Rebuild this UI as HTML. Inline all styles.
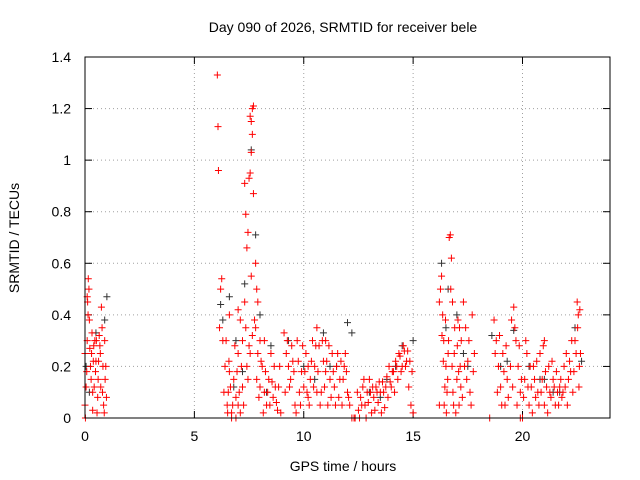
<!DOCTYPE html>
<html><head><meta charset="utf-8"><style>
body{margin:0;background:#fff}
svg{display:block;font-family:"Liberation Sans",sans-serif}
</style></head><body>
<svg width="640" height="480" id="chart">
<rect width="640" height="480" fill="#fff"/>
<text x="343" y="32" text-anchor="middle" font-size="14">Day 090 of 2026, SRMTID for receiver bele</text>
<text x="343" y="471" text-anchor="middle" font-size="14">GPS time / hours</text>
<text transform="translate(19,238) rotate(-90)" text-anchor="middle" font-size="14">SRMTID / TECUs</text>
<g id="grid"></g><g id="ticks"></g><g id="marks"></g>
<rect x="85" y="57" width="525" height="361" fill="none" stroke="#000"/>
</svg>
<script>
const xTicks=[0,5,10,15,20];
const yTicks=[0,0.2,0.4,0.6,0.8,1,1.2,1.4];
const yTickLabels=["0","0.2","0.4","0.6","0.8","1","1.2","1.4"];
const redT=[0,0.05,0.1,0.12,0.15,0.18,0.2,0.25,0.3,0.35,0.4,0.45,0.5,0.55,0.6,0.65,0.7,0.75,0.8,0.85,0.9,0.95,0.35,0,
6.05,6.08,6.1,6.2,6.25,6.3,6.4,6.5,6.55,6.6,6.7,6.8,6.9,7,7.1,7.2,7.3,7.35,7.4,7.45,7.5,7.55,7.6,7.65,7.7,7.65,7.6,7.55,7.7,7.8,7.85,7.9,8,8.1,8.2,8.3,8.4,8.5,8.6,8.7,8.8,8.9,7,7.2,7.4,7.5,7.8,8,8.2,6.6,7.1,
9.1,9.2,9.3,9.4,9.5,9.6,9.8,9.9,10,10.1,10.2,10.3,10.4,10.5,10.6,10.7,10.8,10.9,11,11.1,11.2,11.3,11.4,11.5,11.6,11.7,11.8,11.9,12,12.1,12.2,12.3,12.5,12.6,12.7,12.8,12.9,13,13.1,13.2,13.3,13.4,13.5,13.6,13.7,13.8,13.9,14,14.1,14.2,14.3,14.4,14.5,14.6,14.7,14.8,14.9,15,10.6,11,10.2,9.7,
16.2,16.3,16.35,16.4,16.5,16.55,16.6,16.65,16.7,16.75,16.8,16.9,17,17.1,17.15,17.2,17.3,17.4,17.5,17.6,17.7,17.8,16.2,16.45,16.85,17.05,
18.7,18.8,18.9,19,19.1,19.2,19.3,19.5,19.6,19.7,19.8,19.9,20,20.1,20.2,20.3,20.4,20.5,20.6,20.7,20.8,20.9,21,21.1,21.2,21.3,21.4,21.5,21.6,21.7,21.8,21.9,22,22.1,22.2,22.3,22.4,22.5,22.55,22.6,22.65,19.9,18.5,21];
const redV=[0.05,0.12,0.3,0.45,0.54,0.5,0.38,0.2,0.25,0.1,0.28,0.3,0.22,0.02,0.15,0.32,0.25,0.43,0.1,0.05,0.3,0.2,0.03,0.25,
1.33,1.13,0.96,0.5,0.54,0.3,0.2,0.05,0.1,0.4,0.02,0.15,0.08,0.25,0.38,0.3,0.91,0.79,0.66,0.72,0.93,1.17,1.15,1.2,1.21,1.1,1.03,0.95,0.87,0.6,0.5,0.45,0.3,0.2,0.1,0.05,0.15,0.25,0.08,0.12,0.03,0.2,0.05,0.12,0.2,0.28,0.35,0.12,0.3,0.18,0.02,
0.33,0.25,0.2,0.15,0.22,0.05,0.1,0.18,0.12,0.25,0.08,0.15,0.3,0.2,0.35,0.28,0.1,0.22,0.18,0.05,0.15,0.25,0.12,0.2,0.08,0.22,0.15,0.25,0.1,0.05,0,0,0.03,0.08,0.12,0.05,0.1,0.15,0.02,0.08,0.12,0.06,0.1,0.14,0.04,0.16,0.2,0.12,0.18,0.22,0.15,0.24,0.2,0.26,0.22,0.12,0.05,0.02,0.1,0.3,0.2,0.3,
0.45,0.55,0.4,0.3,0.2,0.1,0.25,0.7,0.71,0.62,0.45,0.35,0.15,0.05,0.2,0.3,0.45,0.35,0.22,0.1,0.4,0.25,0.05,0.12,0.05,0.38,
0.38,0.3,0.2,0.12,0.25,0.05,0.15,0.38,0.43,0.3,0.2,0.1,0,0.15,0.25,0.05,0.12,0.2,0.08,0.1,0.25,0.15,0.05,0.12,0.2,0.08,0.15,0.05,0.1,0.12,0.08,0.2,0.25,0.15,0.18,0.1,0.3,0.45,0.4,0.2,0.25,0,0,0.3];
const redT2=[0.02,0.08,0.22,0.28,0.32,0.38,0.42,0.48,0.52,0.58,0.62,0.68,0.72,0.78,0.82,0.88,0.92,0.98,0.14,0.1,
6.15,6.35,6.45,6.52,6.58,6.65,6.75,6.85,6.95,7.05,7.15,7.25,7.35,7.45,7.55,7.65,7.75,7.85,7.95,8.05,8.15,8.25,8.35,8.45,8.55,8.65,8.75,8.85,8.95,6.7,6.9,7.0,7.3,7.6,7.9,
9.15,9.25,9.35,9.45,9.55,9.65,9.75,9.85,9.95,10.05,10.15,10.25,10.35,10.45,10.55,10.65,10.75,10.85,10.95,11.05,11.15,11.25,11.35,11.45,11.55,11.65,11.75,11.85,11.95,12.05,12.45,12.55,12.65,12.75,12.85,12.95,13.05,13.15,13.25,13.35,13.45,13.55,13.65,13.75,13.85,13.95,14.05,14.15,14.25,14.35,14.45,14.55,14.65,14.75,14.85,14.95,12.35,
16.25,16.32,16.38,16.42,16.48,16.52,16.58,16.62,16.72,16.78,16.82,16.88,16.95,17.02,17.08,17.12,17.18,17.25,17.35,17.45,17.55,17.65,17.75,
18.75,18.85,18.95,19.05,19.15,19.25,19.35,19.45,19.55,19.65,19.75,19.85,19.95,20.05,20.15,20.25,20.35,20.45,20.55,20.65,20.75,20.85,20.95,21.05,21.15,21.25,21.35,21.45,21.55,21.65,21.75,21.85,21.95,22.05,22.15,22.25,22.35,22.45,22.52,22.58,22.62];
const redV2=[0,0.18,0.27,0.15,0.33,0.22,0.12,0.18,0.3,0.08,0.22,0.28,0.12,0.35,0.2,0.02,0.15,0.08,0.4,0.47,
0.35,0.1,0.3,0.02,0.22,0.12,0.05,0.28,0.18,0.1,0.2,0.05,0.35,0.15,0.25,0.32,0.38,0.15,0.08,0.22,0.02,0.18,0.1,0.05,0.14,0.2,0.06,0.12,0.02,0,0,0.42,0.45,0.55,0.25,
0.1,0.3,0.12,0.28,0.18,0.02,0.22,0.05,0.28,0.18,0.1,0.05,0.22,0.12,0.28,0.18,0.05,0.3,0.12,0.22,0.28,0.08,0.18,0.05,0.25,0.15,0.05,0.2,0.18,0.08,0.1,0,0.05,0.15,0,0.06,0.1,0.12,0.03,0.1,0.14,0.02,0.1,0.12,0.08,0.14,0.18,0.1,0.2,0.25,0.18,0.28,0.2,0.26,0.22,0.18,0,
0.5,0.32,0.22,0.05,0.38,0.02,0.15,0.3,0.5,0.2,0.1,0.25,0.02,0.28,0.18,0.35,0.12,0.08,0.2,0.15,0.3,0.05,0.18,
0.25,0.1,0.32,0.05,0.18,0.28,0.08,0.2,0.12,0.35,0.05,0.28,0.15,0.08,0.3,0.12,0.2,0.02,0.15,0.22,0.05,0.1,0.28,0.18,0.02,0.1,0.22,0.12,0.18,0.05,0.15,0.1,0.12,0.05,0.22,0.3,0.18,0.25,0.35,0.12,0.42];
const blackT=[0.05,0.2,0.5,0.9,1.0,6.2,6.3,6.6,6.9,7.3,7.6,7.8,8.0,8.5,9.3,10.0,10.9,11.5,12.0,12.2,13.0,13.8,14.5,15.0,16.3,16.6,17.0,17.5,18.6,19.0,19.6,20.3,21.0,21.7,22.4,22.7,6.8,7.2,8.3,10.5,11.2,13.5,14.2,16.5,17.3,19.3,20.8,21.4];
const blackV=[0.2,0.1,0.33,0.38,0.47,0.44,0.38,0.47,0.3,0.52,1.04,0.71,0.4,0.28,0.3,0.2,0.33,0.2,0.37,0.33,0.1,0.15,0.28,0.3,0.6,0.5,0.4,0.2,0.32,0.2,0.34,0.2,0.15,0.1,0.35,0.22,0.12,0.18,0.1,0.15,0.2,0.08,0.2,0.35,0.25,0.22,0.15,0.1];
const X=t=>85+t*(525/24), Y=v=>418-v*(361/1.4);
const NS="http://www.w3.org/2000/svg";
function mk(tag,attrs,parent){const e=document.createElementNS(NS,tag);for(const k in attrs)e.setAttribute(k,attrs[k]);parent.appendChild(e);return e;}
const grid=document.getElementById('grid'),ticks=document.getElementById('ticks'),marks=document.getElementById('marks');
xTicks.forEach(t=>{
 const g=mk('line',{x1:X(t),x2:X(t),y1:57,y2:418,stroke:'#a0a0a0','stroke-dasharray':'1,3'},grid);
 
 
 mk('line',{x1:X(t),x2:X(t),y1:418,y2:411,stroke:'#000'},ticks);
 mk('line',{x1:X(t),x2:X(t),y1:57,y2:64,stroke:'#000'},ticks);
 const l=mk('text',{x:X(t),y:441,'text-anchor':'middle','font-size':14},ticks);l.textContent=t;
 
 
});
yTicks.forEach((v,i)=>{
 const g=mk('line',{x1:85,x2:610,y1:Y(v),y2:Y(v),stroke:'#a0a0a0','stroke-dasharray':'1,3'},grid);
 
 
 mk('line',{x1:85,x2:92,y1:Y(v),y2:Y(v),stroke:'#000'},ticks);
 mk('line',{x1:603,x2:610,y1:Y(v),y2:Y(v),stroke:'#000'},ticks);
 const l=mk('text',{x:71,y:Y(v)+5,'text-anchor':'end','font-size':14},ticks);l.textContent=yTickLabels[i];
 
 
});
function plus(t,v,col,name){
 const x=X(t),y=Y(v);
 const p=mk('path',{d:`M${x-3.5},${y}H${x+3.5}M${x},${y-3.5}V${y+3.5}`,stroke:col,'stroke-width':1,fill:'none'},marks);
 
 
}
blackT.forEach((t,i)=>plus(t,blackV[i],'#333','black-point'));
redT.forEach((t,i)=>plus(t,redV[i],'#f00','red-point'));
redT2.forEach((t,i)=>plus(t,redV2[i],'#f00','red-point'));
</script>
</body></html>
